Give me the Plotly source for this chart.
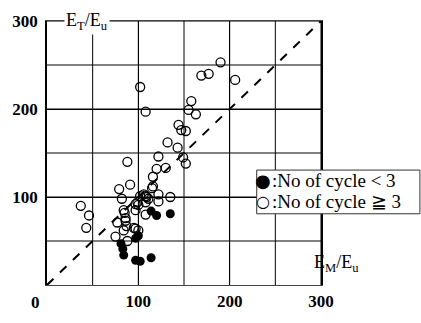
import plotly.graph_objects as go

# open circles: No of cycle >= 3
open_x = [102, 108, 144, 147, 152, 132, 143, 122, 158, 155, 163, 169, 177, 190, 206,
          149, 152, 88, 120, 130, 116, 116, 91, 79, 82, 106, 109, 122, 135, 99,
          37, 46, 43, 102, 108, 111, 100, 97, 108, 85, 86, 77, 87, 84, 97,
          100, 75, 88, 115, 122, 108, 84, 97, 86, 95]
open_y = [225, 197, 182, 176, 175, 162, 156, 146, 209, 199, 194, 238, 240, 253, 233,
          145, 138, 140, 132, 133, 123, 112, 114, 109, 98, 103, 100, 95, 100, 94,
          90, 79, 65, 101, 101, 98, 91, 85, 80, 82, 73, 71, 67, 62, 64,
          62, 55, 50, 110, 103, 94, 85, 92, 76, 65]

# filled circles: No of cycle < 3
fill_x = [114, 120, 135, 97, 100, 81, 83, 84, 97, 102, 114]
fill_y = [84, 79, 81, 53, 56, 47, 41, 34, 28, 27, 31]

diag_x = [0, 300]
diag_y = [0, 300]

grid_vals = [50, 100, 150, 200, 250, 300]
x_tick_vals = [100, 200, 300]
y_tick_vals = [100, 200, 300]

legend_labels = [":No of cycle < 3", ":No of cycle \u2267 3"]

FONT = "Liberation Serif, Times New Roman, serif"

fig = go.Figure()
fig.add_trace(go.Scatter(x=diag_x, y=diag_y, mode="lines",
                         line=dict(color="black", width=2, dash="dash"),
                         showlegend=False, hoverinfo="skip"))
fig.add_trace(go.Scatter(x=open_x, y=open_y, mode="markers",
                         marker=dict(symbol="circle-open", size=9, color="black",
                                     line=dict(width=1.3, color="black")),
                         showlegend=False))
fig.add_trace(go.Scatter(x=fill_x, y=fill_y, mode="markers",
                         marker=dict(symbol="circle", size=9, color="black"),
                         showlegend=False))

W, H = 421, 323
L, R, T, B = 44, 100, 16, 29
pw = W - L - R
ph = H - T - B

def px2paper_x(p):
    return (p - L) / pw

def px2paper_y(p):
    return (H - B - p) / ph

tickf = dict(size=17, family=FONT, weight="bold")

fig.update_layout(
    width=W, height=H, margin=dict(l=L, r=R, t=T, b=B),
    plot_bgcolor="white", paper_bgcolor="white",
    font=dict(family=FONT, size=16, color="black"),
    showlegend=False,
)
fig.update_xaxes(range=[0, 300], tickvals=x_tick_vals, showgrid=True, gridcolor="black",
                 gridwidth=1, showline=True, linecolor="#444", linewidth=1.2, mirror=True,
                 zeroline=False, ticks="", tickfont=tickf)
fig.update_yaxes(range=[0, 300], tickvals=y_tick_vals, showgrid=True, gridcolor="black",
                 gridwidth=1, showline=True, linecolor="black", linewidth=1.6, mirror=True,
                 zeroline=False, ticks="", tickfont=tickf, ticklabelstandoff=4)
for v in grid_vals:
    fig.add_shape(type="line", xref="x", yref="paper", x0=v, x1=v, y0=0, y1=1,
                  line=dict(color="black", width=1), layer="below")
    fig.add_shape(type="line", xref="paper", yref="y", x0=0, x1=1, y0=v, y1=v,
                  line=dict(color="black", width=1), layer="below")

# origin label
fig.add_annotation(x=0, y=0, xref="x", yref="y", text="0", showarrow=False,
                   xshift=-12, yshift=-17, font=tickf)
# axis titles
fig.add_annotation(x=19, y=300, xref="x", yref="y", text="E<sub>T</sub>/E<sub>u</sub>",
                   showarrow=False, xanchor="left", yanchor="middle", bgcolor="white",
                   font=dict(size=18, family=FONT), borderpad=1)
fig.add_annotation(x=290, y=25, xref="x", yref="y", text="E<sub>M</sub>/E<sub>u</sub>",
                   showarrow=False, xanchor="left", yanchor="middle",
                   font=dict(size=18, family=FONT))

# legend box
fig.add_shape(type="rect", xref="paper", yref="paper",
              x0=px2paper_x(256), x1=px2paper_x(421), y0=px2paper_y(219), y1=px2paper_y(173),
              line=dict(color="#333", width=1), fillcolor="white", layer="above")
for i, (glyph, lab) in enumerate(zip(["\u25CF", "\u25CB"], legend_labels)):
    yc = px2paper_y(183.5 + 23 * i)
    fig.add_annotation(x=px2paper_x(262), y=yc, xref="paper", yref="paper", text=glyph,
                       showarrow=False, xanchor="center", yanchor="middle",
                       font=dict(size=18 if i == 0 else 16, family="DejaVu Sans"))
    fig.add_annotation(x=px2paper_x(269), y=yc, xref="paper", yref="paper", text=lab,
                       showarrow=False, xanchor="left", yanchor="middle",
                       font=dict(size=19, family=FONT))

fig.write_html("out.html")
